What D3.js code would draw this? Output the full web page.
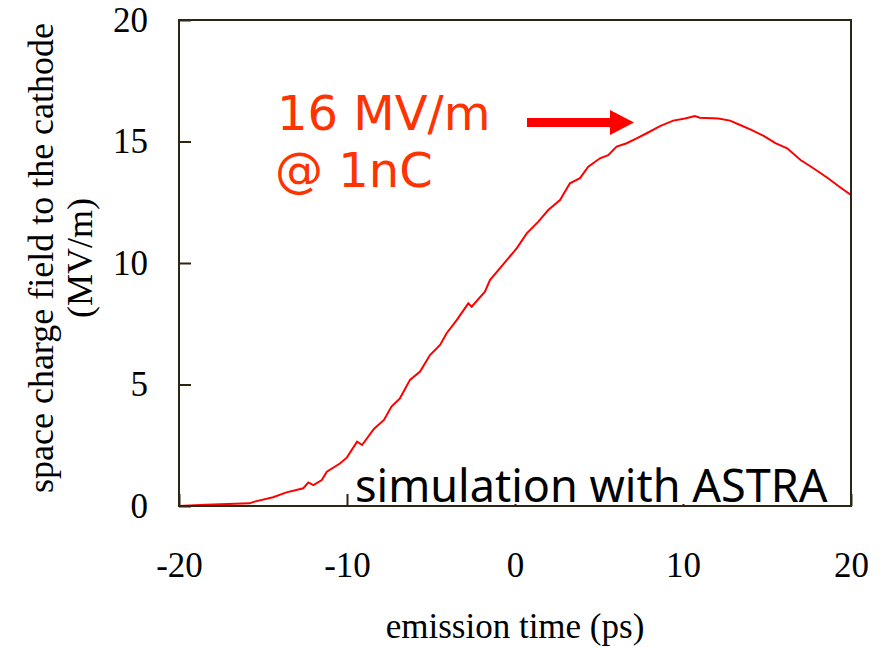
<!DOCTYPE html>
<html>
<head>
<meta charset="utf-8">
<script src="https://cdn.jsdelivr.net/npm/d3@7"></script>
<style>
  body { margin: 0; background: #fff; }
  svg { display: block; }
</style>
</head>
<body>
<svg id="chart" width="882" height="647"></svg>
<script>
// emission time (ps) and space charge field (MV/m)
const times = [-20, -18.4, -15.8, -15.5, -14.4, -13.6, -12.6, -12.3, -12.0, -11.5, -11.2, -10.4, -10.0,
  -9.4, -9.1, -8.4, -7.8, -7.35, -6.85, -6.25, -5.65, -5.06, -4.46, -4.07, -3.47, -2.78, -2.58,
  -1.79, -1.49, -0.49, 0.1, 0.7, 1.39, 1.98, 2.68, 3.27, 3.87, 4.36, 5.06, 5.55, 6.05, 6.65,
  7.24, 7.84, 8.63, 9.42, 10.12, 10.71, 11.0, 12.1, 12.8, 13.4, 14.1, 14.8, 15.5, 16.2, 17.0,
  17.76, 18.55, 19.35, 20];
const field = [0, 0.05, 0.11, 0.18, 0.36, 0.56, 0.73, 0.97, 0.86, 1.07, 1.41, 1.76, 2.0,
  2.65, 2.51, 3.17, 3.54, 4.09, 4.43, 5.19, 5.53, 6.21, 6.63, 7.11, 7.65, 8.34, 8.2,
  8.82, 9.3, 10.12, 10.6, 11.22, 11.7, 12.18, 12.59, 13.28, 13.49, 13.96, 14.31, 14.44, 14.79, 14.93,
  15.13, 15.34, 15.63, 15.86, 15.95, 16.05, 15.98, 15.95, 15.86, 15.68, 15.47, 15.23, 14.93, 14.72, 14.24,
  13.9, 13.53, 13.12, 12.8];
const xTicks = [-20, -10, 0, 10, 20];
const yTicks = [0, 5, 10, 15, 20];

const svg = d3.select('#chart');
const m = { left: 179, right: 851, top: 20, bottom: 506 };
const serif = '"Liberation Serif", "Times New Roman", serif';
const sans = '"Noto Sans", "Open Sans", sans-serif';

const x = d3.scaleLinear().domain([-20, 20]).range([m.left, m.right]);
const y = d3.scaleLinear().domain([0, 20]).range([m.bottom, m.top]);

// y axis, ticks pointing inward
const yAxis = svg.append('g')
  .attr('transform', `translate(${m.left},0)`)
  .call(d3.axisLeft(y).tickValues(yTicks).tickSize(-12).tickPadding(31));
yAxis.select('.domain').remove();

const xAxis = svg.append('g')
  .attr('transform', `translate(0,${m.bottom})`)
  .call(d3.axisBottom(x).tickValues(xTicks).tickSize(-12).tickPadding(46)
    .tickFormat(d => String(d)));
xAxis.select('.domain').remove();

svg.selectAll('.tick line').attr('stroke', '#2e2614').attr('stroke-width', 2);
svg.selectAll('.tick text')
  .attr('fill', '#000')
  .style('font-family', serif)
  .style('font-size', '35px');

// curve
const line = d3.line()
  .x((d, i) => x(times[i]))
  .y(d => y(d))
  .curve(d3.curveLinear);
svg.append('path')
  .datum(field)
  .attr('d', line)
  .attr('fill', 'none')
  .attr('stroke', '#ff0000')
  .attr('stroke-width', 2);

// label box in the corner
svg.append('rect')
  .attr('x', 352).attr('y', 468).attr('width', 478).attr('height', 36)
  .attr('fill', '#fff');
svg.append('text')
  .attr('x', 355).attr('y', 502)
  .style('font-family', sans).style('font-size', '45px')
  .attr('fill', '#000')
  .text('simulation with ASTRA');

// frame
svg.append('rect')
  .attr('x', m.left).attr('y', m.top)
  .attr('width', m.right - m.left).attr('height', m.bottom - m.top)
  .attr('fill', 'none')
  .attr('stroke', '#2e2614')
  .attr('stroke-width', 2);

// annotation
const noteFont = '"DejaVu Sans", sans-serif';
svg.append('text')
  .attr('x', 277).attr('y', 130)
  .style('font-family', noteFont).style('font-size', '48px')
  .attr('fill', '#ff3300')
  .text('16 MV/m');
svg.append('text')
  .attr('x', 275).attr('y', 187)
  .style('font-family', noteFont).style('font-size', '48px')
  .attr('fill', '#ff3300')
  .text('@ 1nC');
svg.append('path')
  .attr('d', 'M527,118 L610,118 L610,110 L634,122.5 L610,135 L610,127 L527,127 Z')
  .attr('fill', '#ff0000');

// axis titles
svg.append('text')
  .attr('x', 515).attr('y', 638)
  .attr('text-anchor', 'middle')
  .style('font-family', serif).style('font-size', '35px')
  .text('emission time (ps)');

const yTitle = svg.append('g').attr('transform', 'translate(0,258) rotate(-90)');
yTitle.append('text')
  .attr('x', 0).attr('y', 53)
  .attr('text-anchor', 'middle')
  .style('font-family', serif).style('font-size', '36px')
  .text('space charge field to the cathode');
yTitle.append('text')
  .attr('x', 0).attr('y', 92)
  .attr('text-anchor', 'middle')
  .style('font-family', serif).style('font-size', '36px')
  .text('(MV/m)');
</script>
</body>
</html>
